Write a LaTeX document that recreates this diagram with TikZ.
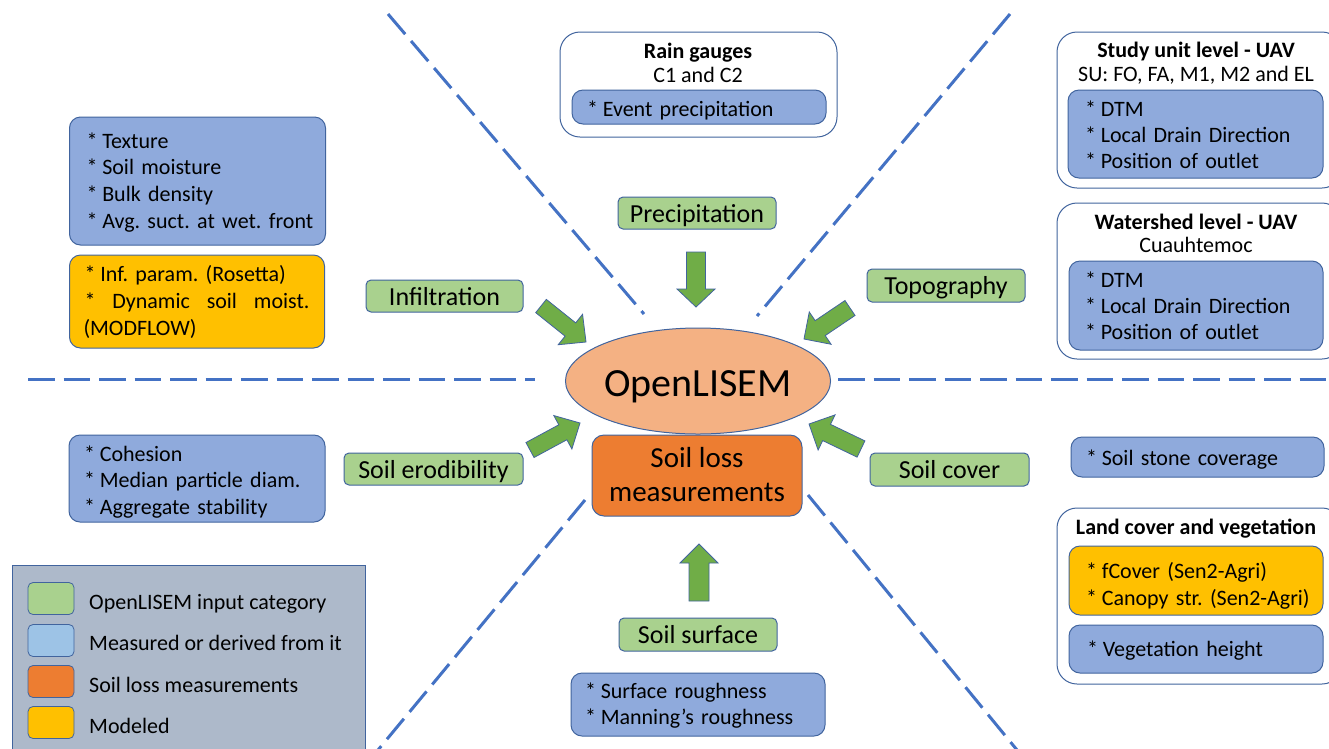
\documentclass[tikz,border=0pt]{standalone}
\usepackage{fontspec}
\setmainfont{Carlito}
\usetikzlibrary{calc,shapes.geometric}
\definecolor{lgreen}{HTML}{A9D18E}
\definecolor{mblue}{HTML}{8FAADC}
\definecolor{lblue}{HTML}{9DC3E6}
\definecolor{morange}{HTML}{ED7D31}
\definecolor{myellow}{HTML}{FFC000}
\definecolor{peach}{HTML}{F4B183}
\definecolor{legbg}{HTML}{ADB9CA}
\definecolor{agreen}{HTML}{70AD47}
\definecolor{bord}{HTML}{41649E}
\definecolor{dblue}{HTML}{4472C4}
\frenchspacing
% first line with a strut of given height, further lines smashed
\newcommand\fstl[2]{\vrule width 0pt height #1 depth 0pt\smash{#2}}
\newcommand\nxl[1]{\smash{#1}}
\newcommand\as{*\kern-2.5pt\ }
\newcommand\blockarr[5]{%
  \coordinate (#2hb) at ($(#2)!#5!(#1)$);
  \draw[barr] ($(#1)!#3!90:(#2)$) -- ($(#2hb)!#3!90:(#2)$) -- ($(#2hb)!#4!90:(#2)$) -- (#2)
    -- ($(#2hb)!#4!-90:(#2)$) -- ($(#2hb)!#3!-90:(#2)$) -- ($(#1)!#3!-90:(#2)$) -- cycle;}
\begin{document}
\begin{tikzpicture}[x=1pt,y=-1pt,
  dline/.style={draw=dblue, line width=3pt, dash pattern=on 26.5pt off 9pt},
  lbl/.style={draw=bord, fill=lgreen, line width=1pt, rounded corners=5pt, inner sep=0pt,
    font=\fontsize{26}{31}\selectfont, text height=18pt, text depth=0pt},
  bbox/.style={draw=bord, fill=mblue, line width=1pt, rounded corners=11pt, align=left,
    font=\fontsize{22}{26.5}\selectfont\frenchspacing, inner ysep=0pt},
  ybox/.style={bbox, fill=myellow},
  obox/.style={draw=bord, fill=white, line width=1pt, rounded corners=20pt, inner sep=0pt},
  ttl/.style={font=\bfseries\fontsize{22}{26.5}\selectfont, anchor=base, inner sep=0pt},
  subt/.style={font=\fontsize{22}{26.5}\selectfont, anchor=base, inner sep=0pt},
  barr/.style={fill=agreen, draw=bord, line width=0.8pt, line join=miter},
  legsq/.style={draw=bord, line width=0.8pt, rounded corners=5pt, minimum width=46pt,
    minimum height=32pt, inner sep=0pt},
  legt/.style={font=\fontsize{22}{26.5}\selectfont, anchor=base west, inner sep=0pt}
]
\useasboundingbox (0,0) rectangle (1329,748);
\clip (0,0) rectangle (1329,748);
\fill[white] (0,0) rectangle (1329,748);

% dashed guide lines
\coordinate (hl1) at (28,379);  \coordinate (hl2) at (535,379);
\coordinate (hr1) at (838,379); \coordinate (hr2) at (1335,379);
\coordinate (tl1) at (388,14);  \coordinate (tl2) at (644,314);
\coordinate (tr1) at (1010,14); \coordinate (tr2) at (757,316);
\coordinate (bl1) at (585,500); \coordinate (bl2) at (378,750);
\coordinate (br1) at (808,495); \coordinate (br2) at (1017,750);
\draw[dline] (hl1) -- (hl2);
\draw[dline] (hr1) -- (hr2);
\draw[dline] (tl1) -- (tl2);
\draw[dline] (tr1) -- (tr2);
\draw[dline] (bl1) -- (bl2);
\draw[dline] (br1) -- (br2);

% centre
\node[draw=bord, fill=peach, line width=1pt, ellipse, minimum width=218pt, minimum height=106pt,
  inner sep=0pt, font=\fontsize{40}{48}\selectfont, text height=30pt, text depth=0pt]
  (olisem) at (698,381) {OpenLISEM};
\node[draw=bord, fill=morange, line width=1pt, rounded corners=12pt, minimum width=210pt,
  minimum height=81pt, inner sep=0pt, align=center, font=\fontsize{29}{34}\selectfont]
  (sloss) at (697,475.5) {\fstl{17pt}{Soil loss}\\\nxl{measurements}};

% green input categories
\node[lbl, minimum width=157pt, minimum height=32pt] (infl) at (444.5,296) {Infiltration};
\node[lbl, minimum width=158pt, minimum height=32pt] (prec) at (697,213) {Precipitation};
\node[lbl, minimum width=158pt, minimum height=33pt] (topo) at (946,285.5) {Topography};
\node[lbl, minimum width=179pt, minimum height=32pt] (erod) at (433.5,469) {Soil erodibility};
\node[lbl, minimum width=159pt, minimum height=33pt] (cover) at (949.5,469.5) {Soil cover};
\node[lbl, minimum width=158pt, minimum height=33pt] (surf) at (698,634.5) {Soil surface};

% block arrows
\coordinate (pa0) at (696,252); \coordinate (pa1) at (696,307);
\coordinate (sa0) at (699,601); \coordinate (sa1) at (699,544);
\coordinate (ia0) at (541,306); \coordinate (ia1) at (586,342);
\coordinate (ta0) at (850,308); \coordinate (ta1) at (804,339);
\coordinate (ea0) at (530,450); \coordinate (ea1) at (580,423);
\coordinate (ca0) at (861,449); \coordinate (ca1) at (809,424);
\blockarr{pa0}{pa1}{9.5pt}{19pt}{18pt}
\blockarr{sa0}{sa1}{10pt}{19pt}{19pt}
\blockarr{ia0}{ia1}{8.5pt}{19.5pt}{20pt}
\blockarr{ta0}{ta1}{9pt}{19.5pt}{19.5pt}
\blockarr{ea0}{ea1}{8.5pt}{19pt}{19.5pt}
\blockarr{ca0}{ca1}{9pt}{19.5pt}{19.5pt}

% left boxes
\node[bbox, minimum width=256pt, minimum height=128pt, text width=222pt, inner xsep=17pt,
  font=\fontsize{22}{26.7}\selectfont\frenchspacing]
  (soilb) at (197.5,181) {\fstl{14.6pt}{\as Texture}\\\nxl{\as Soil moisture}\\\nxl{\as Bulk density}\\\nxl{\as Avg.\ suct.\ at wet.\ front}};
\node[ybox, minimum width=255pt, minimum height=93pt, text width=225pt, inner xsep=15pt,
  font=\fontsize{22}{26.7}\selectfont\frenchspacing]
  (infb) at (197,301.5) {\fstl{13.6pt}{\as Inf.\ param.\ (Rosetta)}\\\nxl{\hbox to 225pt{*\hfill Dynamic\hfill soil\hfill moist.}}\\\nxl{\kern-1pt(MODFLOW)}};
\node[bbox, minimum width=256pt, minimum height=87pt, text width=226pt, inner xsep=15pt]
  (erob) at (197,478.5) {\fstl{18.4pt}{\as Cohesion}\\\nxl{\as Median particle diam.}\\\nxl{\as Aggregate stability}};

% rain gauges
\node[obox, minimum width=277pt, minimum height=105pt] (rain) at (698.5,84.5) {};
\node[ttl] (raint) at (698,58) {Rain gauges};
\node[subt] (rains) at (698,82) {C1 and C2};
\node[bbox, minimum width=254pt, minimum height=34pt, text width=224pt, inner xsep=15pt]
  (rainb) at (699,107) {\fstl{18pt}{\as Event precipitation}};

% study unit level
\node[obox, minimum width=285pt, minimum height=156pt] (study) at (1199.5,110) {};
\node[ttl] (studyt) at (1196,57.5) {Study unit level - UAV};
\node[subt] (studys) at (1196,81) {SU: FO, FA, M1, M2 and EL};
\node[bbox, minimum width=255pt, minimum height=88pt, text width=221pt, inner xsep=17pt,
  font=\fontsize{22}{26.2}\selectfont\frenchspacing]
  (studyb) at (1195.5,134) {\fstl{16.4pt}{\as DTM}\\\nxl{\as Local Drain Direction}\\\nxl{\as Position of outlet}};

% watershed level
\node[obox, minimum width=285pt, minimum height=156pt] (wshed) at (1199.5,281) {};
\node[ttl] (wshedt) at (1196,229) {Watershed level - UAV};
\node[subt] (wsheds) at (1196,252) {Cuauhtemoc};
\node[bbox, minimum width=254pt, minimum height=89pt, text width=222pt, inner xsep=16pt,
  font=\fontsize{22}{26}\selectfont\frenchspacing]
  (wshedb) at (1196,305.5) {\fstl{15.4pt}{\as DTM}\\\nxl{\as Local Drain Direction}\\\nxl{\as Position of outlet}};

% soil stone coverage
\node[bbox, minimum width=253pt, minimum height=40pt, text width=223pt, inner xsep=15pt]
  (stone) at (1197.5,457) {\fstl{16pt}{\as Soil stone coverage}};

% land cover and vegetation
\node[obox, minimum width=285pt, minimum height=176pt] (land) at (1199.5,596) {};
\node[ttl] (landt) at (1196,534) {Land cover and vegetation};
\node[ybox, minimum width=254pt, minimum height=69pt, text width=220pt, inner xsep=17pt,
  font=\fontsize{22}{27}\selectfont\frenchspacing]
  (landb) at (1196,580.5) {\fstl{22pt}{\as fCover (Sen2-Agri)}\\\nxl{\as Canopy str.\ (Sen2-Agri)}};
\node[bbox, minimum width=254pt, minimum height=48pt, text width=218pt, inner xsep=18pt]
  (veg) at (1196,649) {\fstl{15.4pt}{\as Vegetation height}};

% soil surface
\node[bbox, minimum width=254pt, minimum height=63pt, text width=226pt, inner xsep=14pt,
  font=\fontsize{22}{26}\selectfont\frenchspacing]
  (roughb) at (698,704.5) {\fstl{13.6pt}{\as Surface roughness}\\\nxl{\as Manning’s roughness}};

% legend
\node[draw=bord, fill=legbg, line width=1pt, minimum width=353pt, minimum height=200pt,
  inner sep=0pt] (legend) at (188.5,665) {};
\node[legsq, fill=lgreen] (lg1) at (51,598.5) {};
\node[legsq, fill=lblue] (lg2) at (51,640.5) {};
\node[legsq, fill=morange] (lg3) at (51,681.5) {};
\node[legsq, fill=myellow] (lg4) at (51,722.5) {};
\node[legt] (lt1) at (89,609) {OpenLISEM input category};
\node[legt] (lt2) at (89,650) {Measured or derived from it};
\node[legt] (lt3) at (89,692) {Soil loss measurements};
\node[legt] (lt4) at (89,733) {Modeled};
\end{tikzpicture}
\end{document}
